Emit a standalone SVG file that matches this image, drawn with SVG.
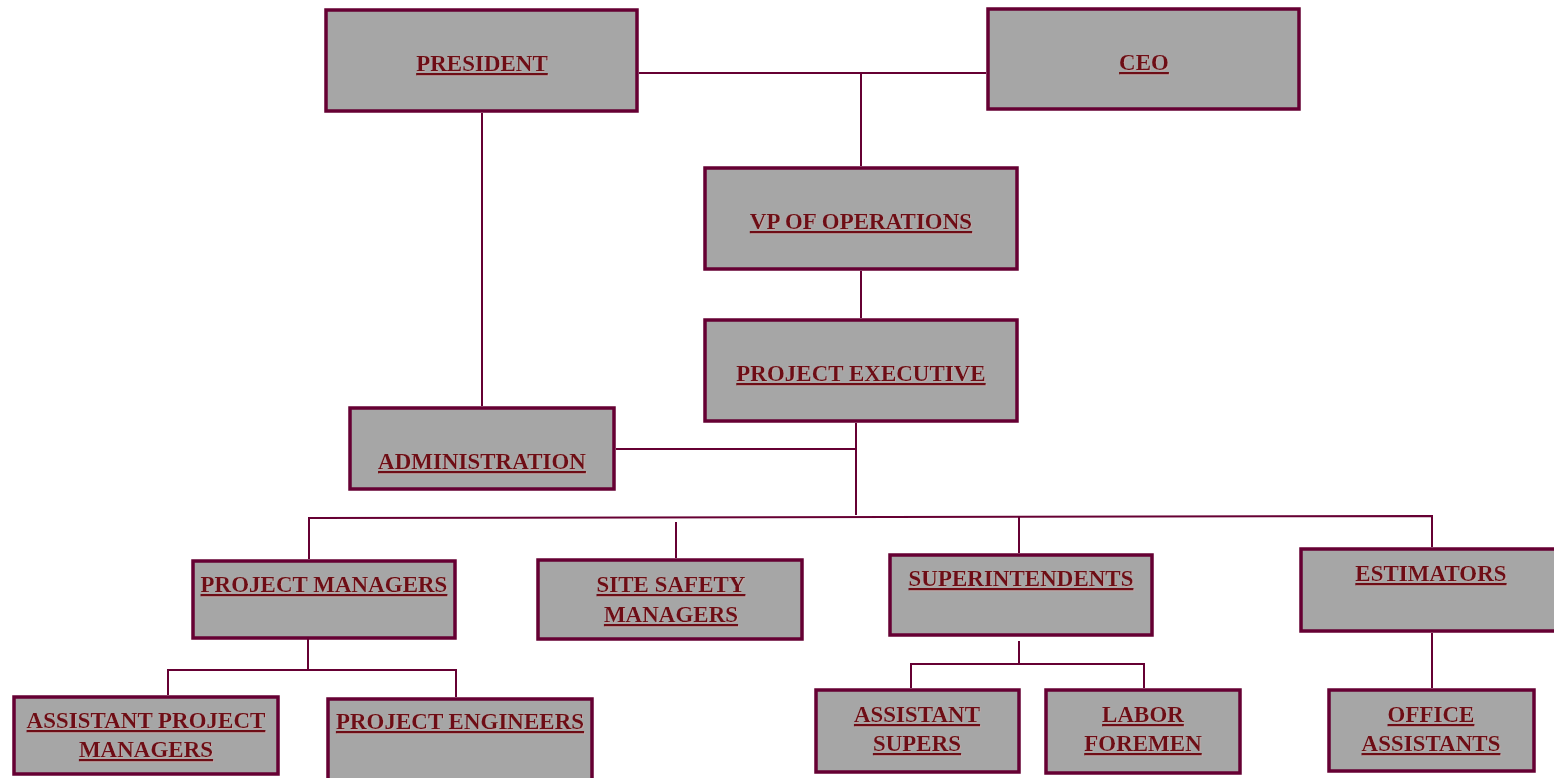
<svg xmlns="http://www.w3.org/2000/svg" width="1554" height="778" viewBox="0 0 1554 778">
  <defs>
    <filter id="soft" x="-5%" y="-20%" width="110%" height="140%">
      <feDropShadow dx="1" dy="1" stdDeviation="0.4" flood-color="#c9a6a6" flood-opacity="0.7"/>
    </filter>
  </defs>
  <style>
    .box rect { fill: #a6a6a6; stroke: #660033; stroke-width: 3.5; }
    .box text { font-family: "Liberation Serif", "Times New Roman", serif; font-weight: bold; font-size: 23px; fill: #6e0a12; text-anchor: middle; text-decoration: underline; filter: url(#soft); }
    #connectors line, #connectors polyline { stroke: #660033; stroke-width: 2; fill: none; }
  </style>
  <rect width="1554" height="778" fill="#ffffff"/>

  <!-- connectors -->
  <g id="connectors">
    <line x1="639" y1="73" x2="986" y2="73"/>
    <line x1="861" y1="73" x2="861" y2="166"/>
    <line x1="861" y1="271" x2="861" y2="318"/>
    <line x1="482" y1="113" x2="482" y2="406"/>
    <line x1="856" y1="423" x2="856" y2="515"/>
    <line x1="616" y1="449" x2="856" y2="449"/>
    <polyline points="309,559 309,518 1432,516 1432,547"/>
    <line x1="676" y1="522" x2="676" y2="558"/>
    <line x1="1019" y1="517" x2="1019" y2="553"/>
    <line x1="308" y1="636" x2="308" y2="670"/>
    <polyline points="168,695 168,670 456,670 456,697"/>
    <line x1="1019" y1="641" x2="1019" y2="664"/>
    <polyline points="911,688 911,664 1144,664 1144,688"/>
    <line x1="1432" y1="633" x2="1432" y2="688"/>
  </g>

  <g id="president" class="box">
    <rect x="326" y="10" width="311" height="101"/>
    <text x="482" y="71">PRESIDENT</text>
  </g>
  <g id="ceo" class="box">
    <rect x="988" y="9" width="311" height="100"/>
    <text x="1144" y="70">CEO</text>
  </g>
  <g id="vp-operations" class="box">
    <rect x="705" y="168" width="312" height="101"/>
    <text x="861" y="229">VP OF OPERATIONS</text>
  </g>
  <g id="project-executive" class="box">
    <rect x="705" y="320" width="312" height="101"/>
    <text x="861" y="381">PROJECT EXECUTIVE</text>
  </g>
  <g id="administration" class="box">
    <rect x="350" y="408" width="264" height="81"/>
    <text x="482" y="469">ADMINISTRATION</text>
  </g>
  <g id="project-managers" class="box">
    <rect x="193" y="561" width="262" height="77"/>
    <text x="324" y="592">PROJECT MANAGERS</text>
  </g>
  <g id="site-safety-managers" class="box">
    <rect x="538" y="560" width="264" height="79"/>
    <text x="671" y="592">SITE SAFETY</text>
    <text x="671" y="622">MANAGERS</text>
  </g>
  <g id="superintendents" class="box">
    <rect x="890" y="555" width="262" height="80"/>
    <text x="1021" y="586">SUPERINTENDENTS</text>
  </g>
  <g id="estimators" class="box">
    <rect x="1301" y="549" width="262" height="82"/>
    <text x="1431" y="581">ESTIMATORS</text>
  </g>
  <g id="assistant-project-managers" class="box">
    <rect x="14" y="697" width="264" height="77"/>
    <text x="146" y="728">ASSISTANT PROJECT</text>
    <text x="146" y="757">MANAGERS</text>
  </g>
  <g id="project-engineers" class="box">
    <rect x="328" y="699" width="264" height="90"/>
    <text x="460" y="729">PROJECT ENGINEERS</text>
  </g>
  <g id="assistant-supers" class="box">
    <rect x="816" y="690" width="203" height="82"/>
    <text x="917" y="722">ASSISTANT</text>
    <text x="917" y="751">SUPERS</text>
  </g>
  <g id="labor-foremen" class="box">
    <rect x="1046" y="690" width="194" height="83"/>
    <text x="1143" y="722">LABOR</text>
    <text x="1143" y="751">FOREMEN</text>
  </g>
  <g id="office-assistants" class="box">
    <rect x="1329" y="690" width="205" height="81"/>
    <text x="1431" y="722">OFFICE</text>
    <text x="1431" y="751">ASSISTANTS</text>
  </g>
</svg>
